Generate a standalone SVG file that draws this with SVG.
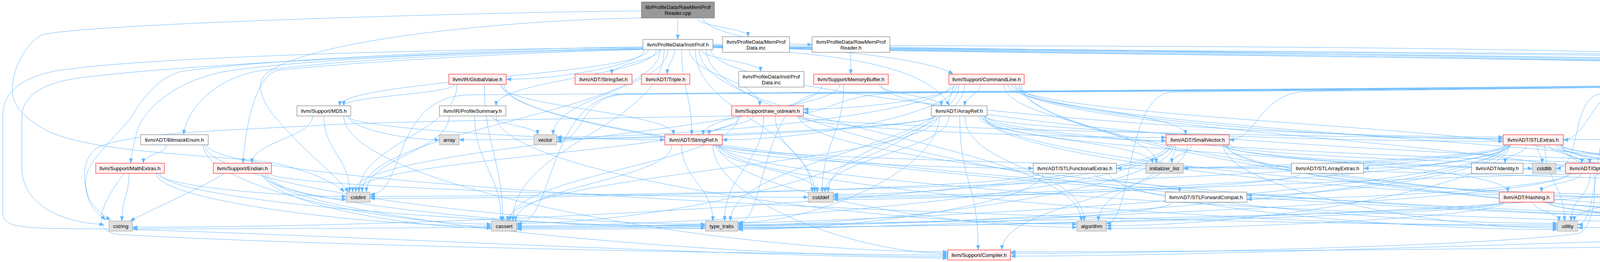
<svg xmlns="http://www.w3.org/2000/svg" width="5861" height="671" viewBox="0 0 5861 671">
<defs>
<marker id="ah" viewBox="0 0 13 10" refX="12.5" refY="5" markerWidth="13" markerHeight="10" markerUnits="userSpaceOnUse" orient="auto"><path d="M0,0 L13,5 L0,10 z" fill="#63b8ff"/></marker>
</defs>
<style>
.e path{fill:none;stroke:#63b8ff;stroke-width:1;marker-end:url(#ah)}
.nw{fill:#ffffff;stroke:#666666}
.nr{fill:#fff0f0;stroke:#ff0000}
.ng{fill:#e0e0e0;stroke:#999999}
.nroot{fill:#999999;stroke:#666666}
text{font-family:"Liberation Sans",Arial,Helvetica,sans-serif;font-size:13.3px;text-anchor:middle;fill:#000000}
</style>
<rect x="0" y="0" width="5861" height="671" fill="#ffffff"/>
<g id="edges" class="e">
<path d="M1735,46 C1735,70 1735,77 1735,101"/>
<path d="M1785,46 C1785,68 1915,72 1915,94"/>
<path d="M1800,46 C1800,80 1967,114 2079,114"/>
<path d="M1642,28 C1300,30 200,60 105,90 C60,120 30,180 32,233 C34,280 70,305 120,335 C250,395 550,395 706,418 C800,440 860,470 882,492"/>
<path d="M1660,46 C1400,47 800,90 680,190 C640,230 700,300 745,345 C790,395 850,440 893,492"/>
<path d="M2178,134 C2178,160 2178,165 2178,190"/>
<path d="M2278,117 C3200,118 4800,122 4905,190"/>
<path d="M1825,122 C2150,135 2380,170 2430,271"/>
<path d="M1646,126 C1300,132 900,150 660,182 C560,200 480,270 470,345"/>
<path d="M1820,127 C1820,242 3037,351 3848,351"/>
<path d="M1745,127 C1745,225 1771,247 1771,345"/>
<path d="M1688,127 C1688,155 1566,162 1566,190"/>
<path d="M1727,127 C1727,155 1708,162 1708,190"/>
<path d="M1650,127 C1650,165 1438,203 1296,203"/>
<path d="M1680,127 C1680,192 1270,206 1270,271"/>
<path d="M1795,127 C1795,152 1947,158 1947,183"/>
<path d="M1825,116 C2100,120 2380,150 2440,190"/>
<path d="M1646,122 C1300,124 400,140 140,182 C60,200 7,230 7,300 L7,540 C7,580 30,586 240,586 C600,590 1800,655 2426,661"/>
<path d="M1646,127 C1300,135 900,160 709,180 C660,195 630,300 622,418"/>
<path d="M1825,117 C2600,130 4500,138 4700,145 C4800,150 4860,165 4875,190"/>
<path d="M1825,113 C2600,128 5500,165 5700,190 C5800,205 5824,250 5824,300 L5824,430 C5824,520 5650,560 5482,572"/>
<path d="M1825,122 C2600,139 5300,160 5450,190 C5540,210 5590,240 5605,271"/>
<path d="M1660,127 C1660,192 870,206 870,271"/>
<path d="M1646,125 C1300,128 800,150 582,182 C450,205 365,280 350,340 C340,380 335,400 335,418"/>
<path d="M1765,127 C1765,192 1945,206 1945,271"/>
<path d="M1790,127 C1790,325 2768,368 2768,566"/>
<path d="M1700,127 C1700,325 1313,368 1313,566"/>
<path d="M1780,127 C1780,291 2079,328 2079,492"/>
<path d="M1690,127 C1690,291 927,328 927,492"/>
<path d="M1646,124 C1300,128 500,160 200,200 C100,215 56,250 56,300 L56,430 C56,520 150,570 267,575"/>
<path d="M1646,120 C1300,124 700,150 463,183 C400,200 360,260 336,300 C280,370 210,420 220,480 C225,520 255,545 283,564"/>
<path d="M1825,118 C2600,131 4400,140 4600,150 C4700,158 4735,175 4752,190"/>
<path d="M1825,120 C2600,135 4800,150 5000,185 C5080,210 5100,350 5105,418"/>
<path d="M1825,121 C2600,137 4850,155 5030,190 C5150,230 5190,450 5192,566"/>
<path d="M1825,119 C2600,133 4600,145 4750,165 C4800,180 4815,300 4820,345"/>
<path d="M1808,127 C1808,350 3115,572 3987,572"/>
<path d="M1710,127 C1710,225 1416,247 1416,345"/>
<path d="M1281,216 C1281,274 1724,287 1724,345"/>
<path d="M1163,216 C1163,241 880,246 880,271"/>
<path d="M1285,216 C1285,394 3690,572 5293,572"/>
<path d="M1240,216 C1240,373 1287,409 1287,566"/>
<path d="M1170,216 C1170,340 919,368 919,492"/>
<path d="M1290,216 C1290,396 3611,575 5158,575"/>
<path d="M888,297 C888,327 1376,358 1702,358"/>
<path d="M880,297 C880,471 1811,645 2426,645"/>
<path d="M800,297 C800,351 645,364 645,418"/>
<path d="M892,297 C892,327 1030,358 1125,358"/>
<path d="M829,297 C829,385 895,404 895,492"/>
<path d="M1270,297 C1270,436 2162,574 2757,574"/>
<path d="M1215,297 C1215,418 1283,445 1283,566"/>
<path d="M1150,297 C1150,385 938,404 938,492"/>
<path d="M1260,297 C1260,319 1376,323 1376,345"/>
<path d="M2040,297 C2040,325 2607,352 2985,352"/>
<path d="M1930,297 C1930,319 1815,323 1815,345"/>
<path d="M1890,297 C1890,418 1305,445 1305,566"/>
<path d="M1985,297 C1985,385 2085,404 2085,492"/>
<path d="M1895,297 C1895,385 911,404 911,492"/>
<path d="M1880,297 C1400,305 950,312 800,322 C560,335 330,340 250,378 C205,410 212,470 230,520 C245,545 262,555 270,564"/>
<path d="M2045,297 C2045,438 3911,578 5158,578"/>
<path d="M2050,297 C2050,329 3680,361 4774,361"/>
<path d="M1955,297 C1955,418 1855,445 1855,566"/>
<path d="M2250,216 C2250,241 2410,246 2410,271"/>
<path d="M2150,216 C2150,274 1800,287 1800,345"/>
<path d="M2160,216 C2160,340 2105,368 2105,492"/>
<path d="M2105,216 C2105,340 903,368 903,492"/>
<path d="M2255,216 C2255,323 3949,429 5079,429"/>
<path d="M2510,216 C2510,241 2470,246 2470,271"/>
<path d="M2600,216 C2600,340 4170,368 4170,492"/>
<path d="M2595,216 C2595,307 4070,327 4070,418"/>
<path d="M2590,216 C2590,286 3349,356 3848,356"/>
<path d="M2580,216 C2580,274 3035,287 3035,345"/>
<path d="M2450,216 C2450,287 2089,358 1849,358"/>
<path d="M2605,216 C2605,340 4565,368 4565,492"/>
<path d="M2610,216 C2610,396 4216,575 5293,575"/>
<path d="M2445,216 C2445,248 2214,280 2057,280"/>
<path d="M2440,216 C2440,394 1774,572 1323,572"/>
<path d="M2470,216 C2470,340 2120,368 2120,492"/>
<path d="M2570,216 C2570,307 2960,327 2960,418"/>
<path d="M2615,216 C2615,398 4135,581 5158,581"/>
<path d="M2455,216 C2455,373 1870,409 1870,566"/>
<path d="M2435,216 C2435,283 1835,351 1425,351"/>
<path d="M4857,205 C4600,222 4300,228 4150,232 C4080,234 4060,358 4002,358"/>
<path d="M4857,206 C4400,224 3600,230 3350,234 C3220,236 3220,358 3147,358"/>
<path d="M4927,216 C4927,307 4965,327 4965,418"/>
<path d="M4993,205 C5300,210 5650,230 5720,270 C5744,290 5744,330 5744,400 L5744,505 C5744,512 5850,510 5855,518 C5860,530 5600,600 5300,610 C4500,635 3000,645 2587,645"/>
<path d="M4960,216 C4960,373 5366,409 5366,566"/>
<path d="M4857,207 C4200,226 2600,234 2300,238 C2150,242 2120,288 2057,288"/>
<path d="M4857,208 C4300,226 3300,232 3000,236 C2880,240 2900,572 2832,572"/>
<path d="M4857,209 C4000,227 2000,236 1600,240 C1400,245 1420,575 1323,575"/>
<path d="M4857,210 C4000,228 1800,238 1200,243 C1000,247 1040,498 947,498"/>
<path d="M4857,213 C4500,230 4200,234 4100,240 C4020,246 4050,431 3983,431"/>
<path d="M4975,216 C4975,307 5100,327 5100,418"/>
<path d="M4985,216 C4985,373 5180,409 5180,566"/>
<path d="M4885,216 C4885,274 4835,287 4835,345"/>
<path d="M4857,211 C4100,229 2400,237 2100,240 C1950,243 1960,573 1889,573"/>
<path d="M4857,214 C4600,232 4250,238 4150,245 C4080,252 4100,575 4039,575"/>
<path d="M4857,212 C4000,230 2000,238 1600,242 C1480,245 1500,362 1425,362"/>
<path d="M5610,297 C5600,460 5420,579 5212,579"/>
<path d="M2515,297 C2515,395 3860,400 3860,492"/>
<path d="M2520,297 C2520,401 3479,505 4122,505"/>
<path d="M2510,297 C2510,328 2796,360 2985,360"/>
<path d="M2518,297 C2518,329 3316,362 3848,362"/>
<path d="M2457,297 C2457,468 2504,469 2504,640"/>
<path d="M2470,297 C2470,431 2775,432 2775,566"/>
<path d="M2395,297 C2395,327 1665,358 1175,358"/>
<path d="M2400,297 C2400,418 1300,445 1300,566"/>
<path d="M2430,297 C2430,385 2112,404 2112,492"/>
<path d="M2505,297 C2505,352 2950,363 2950,418"/>
<path d="M2522,297 C2522,398 3576,500 4283,500"/>
<path d="M2524,297 C2524,365 4053,433 5079,433"/>
<path d="M2405,297 C2405,433 2093,570 1889,570"/>
<path d="M2390,297 C2390,326 1815,356 1425,356"/>
<path d="M426,371 C426,395 367,394 367,418"/>
<path d="M520,371 C520,472 963,574 1258,574"/>
<path d="M525,371 C525,472 1292,574 1806,574"/>
<path d="M530,371 C530,473 2600,576 3987,576"/>
<path d="M1830,371 C1830,401 2319,431 2645,431"/>
<path d="M1835,371 C1835,425 4578,438 4578,492"/>
<path d="M1825,371 C1825,510 2188,649 2426,649"/>
<path d="M1840,371 C1840,476 2386,582 2757,582"/>
<path d="M1720,371 C1720,459 1320,478 1320,566"/>
<path d="M1832,371 C1832,425 2092,438 2092,492"/>
<path d="M1845,371 C1845,477 3827,584 5158,584"/>
<path d="M1745,371 C1745,459 1825,478 1825,566"/>
<path d="M1842,371 C1842,475 3124,580 3987,580"/>
<path d="M3130,371 C3130,425 4585,438 4585,492"/>
<path d="M3040,371 C3040,492 2565,519 2565,640"/>
<path d="M3140,371 C3140,474 4428,578 5293,578"/>
<path d="M3010,371 C3010,459 2812,478 2812,566"/>
<path d="M2995,371 C2995,474 1994,578 1323,578"/>
<path d="M3000,371 C3000,434 2480,498 2133,498"/>
<path d="M3135,371 C3135,401 3606,431 3923,431"/>
<path d="M2990,371 C2990,476 1403,582 339,582"/>
<path d="M3050,371 C3050,395 3000,394 3000,418"/>
<path d="M3138,371 C3138,439 3822,508 4283,508"/>
<path d="M3142,371 C3142,404 4299,437 5079,437"/>
<path d="M3005,371 C3005,473 2333,576 1889,576"/>
<path d="M3132,371 C3132,477 3644,584 3987,584"/>
<path d="M3965,371 C3965,395 4050,394 4050,418"/>
<path d="M3860,371 C3860,401 3639,431 3491,431"/>
<path d="M3862,371 C3862,435 3459,500 3192,500"/>
<path d="M3856,371 C3856,401 3259,431 2858,431"/>
<path d="M3908,371 C3908,395 3853,394 3853,418"/>
<path d="M3990,371 C3990,401 4250,431 4424,431"/>
<path d="M3995,371 C3995,425 4552,438 4552,492"/>
<path d="M3998,371 C3998,401 4526,431 4883,431"/>
<path d="M4000,371 C4000,476 4772,581 5293,581"/>
<path d="M3864,371 C3864,474 3243,578 2832,578"/>
<path d="M3858,371 C3858,476 2338,581 1323,581"/>
<path d="M3866,371 C3866,436 2824,502 2133,502"/>
<path d="M3854,371 C3854,437 2112,503 947,503"/>
<path d="M3935,371 C3935,395 3948,394 3948,418"/>
<path d="M3868,371 C3868,401 3361,431 3029,431"/>
<path d="M3985,371 C3985,425 4305,438 4305,492"/>
<path d="M3996,371 C3996,405 4643,440 5079,440"/>
<path d="M3852,371 C3852,475 2677,579 1889,579"/>
<path d="M3955,371 C3955,459 4005,478 4005,566"/>
<path d="M318,444 C260,520 230,590 300,600 C700,625 1800,650 2426,653"/>
<path d="M400,444 C400,511 915,579 1258,579"/>
<path d="M405,444 C405,474 692,503 887,503"/>
<path d="M330,444 C330,505 312,505 312,566"/>
<path d="M410,444 C410,511 1244,579 1806,579"/>
<path d="M680,444 C680,550 1728,657 2426,657"/>
<path d="M675,444 C675,514 1027,584 1258,584"/>
<path d="M690,444 C690,474 1513,505 2069,505"/>
<path d="M685,444 C685,477 804,510 887,510"/>
<path d="M574,444 C520,480 400,530 333,566"/>
<path d="M670,444 C670,514 1356,584 1806,584"/>
<path d="M2800,444 C2800,470 3020,470 3020,492"/>
<path d="M2660,444 C2660,476 1640,508 947,508"/>
<path d="M2670,444 C2670,516 2205,588 1889,588"/>
<path d="M2840,444 C2840,516 3520,588 3987,588"/>
<path d="M3330,444 C3330,475 2612,506 2133,506"/>
<path d="M4047,444 C4047,468 3946,468 3946,492"/>
<path d="M4096,444 C4096,468 4158,468 4158,492"/>
<path d="M4020,444 C4020,477 3523,510 3192,510"/>
<path d="M4080,444 C4090,520 4070,590 4040,598 C3800,630 3000,649 2587,649"/>
<path d="M4015,444 C4015,514 2402,584 1323,584"/>
<path d="M4147,428 C4400,408 4900,404 5079,421"/>
<path d="M4071,444 C4071,505 4022,505 4022,566"/>
<path d="M4501,444 C4501,468 4544,468 4544,492"/>
<path d="M4424,437 C3500,450 2600,511 2133,511"/>
<path d="M4459,444 C4459,468 4335,468 4335,492"/>
<path d="M4440,444 C4440,513 2909,582 1889,582"/>
<path d="M4480,444 C4480,505 4030,505 4030,566"/>
<path d="M3000,518 C3000,552 2333,585 1889,585"/>
<path d="M3960,518 C3960,552 4760,585 5293,585"/>
<path d="M3850,518 C3850,552 3239,585 2832,585"/>
<path d="M3848,518 C3848,553 2334,587 1323,587"/>
<path d="M3845,518 C3845,552 1743,586 339,586"/>
<path d="M3965,518 C3965,553 4679,587 5158,587"/>
<path d="M3926,518 C3926,542 3991,542 3991,566"/>
<path d="M4490,518 C4490,551 4219,583 4039,583"/>
<path d="M5293,586 C4500,600 3200,656 2587,656"/>
</g>
<g id="n-root"><rect class="nroot" x="1642" y="5" width="187" height="41"/><text x="1735.5" y="23">lib/ProfileData/RawMemProf</text><text x="1735.5" y="38">Reader.cpp</text></g>
<g id="n-instrprof"><rect class="nw" x="1646" y="101" width="179" height="26"/><text x="1735.5" y="119">llvm/ProfileData/InstrProf.h</text></g>
<g id="n-memprofdata"><rect class="nw" x="1850" y="94" width="171" height="40"/><text x="1935.5" y="112">llvm/ProfileData/MemProf</text><text x="1935.5" y="127">Data.inc</text></g>
<g id="n-rawmemprofreader"><rect class="nw" x="2079" y="94" width="199" height="40"/><text x="2178.5" y="112">llvm/ProfileData/RawMemProf</text><text x="2178.5" y="127">Reader.h</text></g>
<g id="n-stringset"><rect class="nr" x="1472" y="190" width="146" height="26"/><text x="1545" y="208">llvm/ADT/StringSet.h</text></g>
<g id="n-triple"><rect class="nr" x="1642" y="190" width="124" height="26"/><text x="1704" y="208">llvm/ADT/Triple.h</text></g>
<g id="n-instrprofdata"><rect class="nw" x="1891" y="183" width="167" height="40"/><text x="1974.5" y="201">llvm/ProfileData/InstrProf</text><text x="1974.5" y="216">Data.inc</text></g>
<g id="n-memorybuffer"><rect class="nr" x="2083" y="190" width="191" height="26"/><text x="2178.5" y="208">llvm/Support/MemoryBuffer.h</text></g>
<g id="n-commandline"><rect class="nr" x="2429" y="190" width="193" height="26"/><text x="2525.5" y="208">llvm/Support/CommandLine.h</text></g>
<g id="n-globalvalue"><rect class="nr" x="1149" y="190" width="147" height="26"/><text x="1222.5" y="208">llvm/IR/GlobalValue.h</text></g>
<g id="n-error"><rect class="nr" x="4857" y="190" width="136" height="26"/><text x="4925" y="208">llvm/Support/Error.h</text></g>
<g id="n-list"><rect class="ng" x="4745" y="190" width="38" height="26"/><text x="4764" y="208">list</text></g>
<g id="n-md5"><rect class="nw" x="760" y="271" width="138" height="26"/><text x="829" y="289">llvm/Support/MD5.h</text></g>
<g id="n-profilesummary"><rect class="nw" x="1125" y="271" width="170" height="26"/><text x="1210" y="289">llvm/IR/ProfileSummary.h</text></g>
<g id="n-raw_ostream"><rect class="nr" x="1873" y="271" width="184" height="26"/><text x="1965" y="289">llvm/Support/raw_ostream.h</text></g>
<g id="n-arrayref"><rect class="nw" x="2384" y="271" width="143" height="26"/><text x="2455.5" y="289">llvm/ADT/ArrayRef.h</text></g>
<g id="n-host"><rect class="nw" x="5547" y="271" width="138" height="26"/><text x="5616" y="289">llvm/Support/Host.h</text></g>
<g id="n-bitmaskenum"><rect class="nw" x="360" y="345" width="173" height="26"/><text x="446.5" y="363">llvm/ADT/BitmaskEnum.h</text></g>
<g id="n-array"><rect class="ng" x="1125" y="345" width="50" height="26"/><text x="1150" y="363">array</text></g>
<g id="n-vector"><rect class="ng" x="1367" y="345" width="58" height="26"/><text x="1396" y="363">vector</text></g>
<g id="n-stringref"><rect class="nr" x="1702" y="345" width="147" height="26"/><text x="1775.5" y="363">llvm/ADT/StringRef.h</text></g>
<g id="n-smallvector"><rect class="nr" x="2985" y="345" width="162" height="26"/><text x="3066" y="363">llvm/ADT/SmallVector.h</text></g>
<g id="n-stlextras"><rect class="nr" x="3848" y="345" width="154" height="26"/><text x="3925" y="363">llvm/ADT/STLExtras.h</text></g>
<g id="n-system_error"><rect class="ng" x="4774" y="345" width="97" height="26"/><text x="4822.5" y="363">system_error</text></g>
<g id="n-mathextras"><rect class="nr" x="245" y="418" width="176" height="26"/><text x="333" y="436">llvm/Support/MathExtras.h</text></g>
<g id="n-endian"><rect class="nr" x="546" y="418" width="149" height="26"/><text x="620.5" y="436">llvm/Support/Endian.h</text></g>
<g id="n-stlfunctionalextras"><rect class="nw" x="2645" y="418" width="213" height="26"/><text x="2751.5" y="436">llvm/ADT/STLFunctionalExtras.h</text></g>
<g id="n-initializer_list"><rect class="ng" x="2933" y="418" width="96" height="26"/><text x="2981" y="436">initializer_list</text></g>
<g id="n-stlarrayextras"><rect class="nw" x="3306" y="418" width="185" height="26"/><text x="3398.5" y="436">llvm/ADT/STLArrayExtras.h</text></g>
<g id="n-identity"><rect class="nw" x="3767" y="418" width="132" height="26"/><text x="3833" y="436">llvm/ADT/identity.h</text></g>
<g id="n-cstdlib"><rect class="ng" x="3923" y="418" width="60" height="26"/><text x="3953" y="436">cstdlib</text></g>
<g id="n-optional"><rect class="nr" x="4008" y="418" width="139" height="26"/><text x="4077.5" y="436">llvm/ADT/Optional.h</text></g>
<g id="n-iterator_h"><rect class="nw" x="4424" y="418" width="130" height="26"/><text x="4489" y="436">llvm/ADT/iterator.h</text></g>
<g id="n-abi-breaking"><rect class="ng" x="4883" y="418" width="172" height="26"/><text x="4969" y="436">llvm/Config/abi-breaking.h</text></g>
<g id="n-memory"><rect class="ng" x="5079" y="418" width="68" height="26"/><text x="5113" y="436">memory</text></g>
<g id="n-cstdint"><rect class="ng" x="887" y="492" width="60" height="26"/><text x="917" y="510">cstdint</text></g>
<g id="n-cstddef"><rect class="ng" x="2069" y="492" width="64" height="26"/><text x="2101" y="510">cstddef</text></g>
<g id="n-stlforwardcompat"><rect class="nw" x="2983" y="492" width="209" height="26"/><text x="3087.5" y="510">llvm/ADT/STLForwardCompat.h</text></g>
<g id="n-hashing"><rect class="nr" x="3838" y="492" width="140" height="26"/><text x="3908" y="510">llvm/ADT/Hashing.h</text></g>
<g id="n-none"><rect class="nw" x="4122" y="492" width="123" height="26"/><text x="4183.5" y="510">llvm/ADT/None.h</text></g>
<g id="n-iterator"><rect class="ng" x="4283" y="492" width="62" height="26"/><text x="4314" y="510">iterator</text></g>
<g id="n-iterator_range"><rect class="nw" x="4471" y="492" width="170" height="26"/><text x="4556" y="510">llvm/ADT/iterator_range.h</text></g>
<g id="n-cstring"><rect class="ng" x="279" y="566" width="60" height="26"/><text x="309" y="584">cstring</text></g>
<g id="n-cassert"><rect class="ng" x="1258" y="566" width="65" height="26"/><text x="1290.5" y="584">cassert</text></g>
<g id="n-type_traits"><rect class="ng" x="1806" y="566" width="83" height="26"/><text x="1847.5" y="584">type_traits</text></g>
<g id="n-algorithm"><rect class="ng" x="2757" y="566" width="75" height="26"/><text x="2794.5" y="584">algorithm</text></g>
<g id="n-utility"><rect class="ng" x="3987" y="566" width="52" height="26"/><text x="4013" y="584">utility</text></g>
<g id="n-string"><rect class="ng" x="5158" y="566" width="54" height="26"/><text x="5185" y="584">string</text></g>
<g id="n-errorhandling"><rect class="nw" x="5293" y="566" width="189" height="26"/><text x="5387.5" y="584">llvm/Support/ErrorHandling.h</text></g>
<g id="n-compiler"><rect class="nr" x="2426" y="640" width="161" height="26"/><text x="2506.5" y="658">llvm/Support/Compiler.h</text></g>
</svg>
